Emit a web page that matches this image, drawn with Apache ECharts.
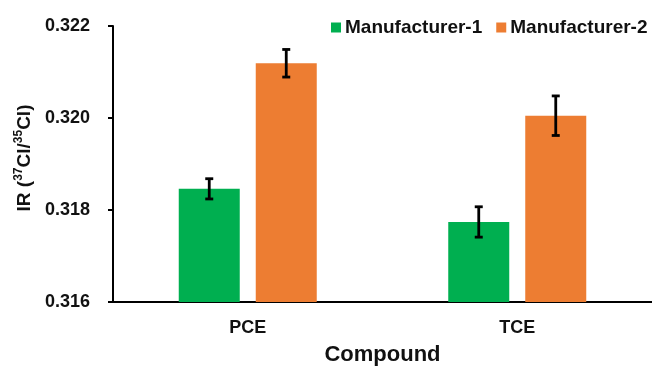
<!DOCTYPE html>
<html>
<head>
<meta charset="utf-8">
<script src="https://cdn.jsdelivr.net/npm/echarts@6/dist/echarts.min.js"></script>
<style>html,body{margin:0;padding:0;background:#fff}#c{width:652px;height:371px}</style>
</head>
<body>
<div id="c"></div>
<script>
var categories = ['PCE', 'TCE'];
var seriesNames = ['Manufacturer-1', 'Manufacturer-2'];
var m1Values = [0.31846, 0.31774];
var m1Errors = [0.00022, 0.00033];
var m2Values = [0.32119, 0.32005];
var m2Errors = [0.00030, 0.00043];
var yTicks = [0.316, 0.318, 0.320, 0.322];

var colors = ['#00AF50', '#ED7D32'];
var BAR_W = 61, GAP = 16;
var FONT = '"Liberation Sans", Arial, sans-serif';

function errData(vals, errs) {
  return vals.map(function (v, i) { return [i, v - errs[i], v + errs[i]]; });
}
function errSeries(vals, errs, side) {
  return {
    type: 'custom',
    z: 10,
    silent: true,
    data: errData(vals, errs),
    renderItem: function (params, api) {
      var off = side * (BAR_W + GAP) / 2;
      var lo = api.coord([api.value(0), api.value(1)]);
      var hi = api.coord([api.value(0), api.value(2)]);
      var x = lo[0] + off, cap = 4;
      var st = { stroke: '#000', lineWidth: 2.8 };
      return {
        type: 'group',
        children: [
          { type: 'line', shape: { x1: x, y1: lo[1], x2: x, y2: hi[1] }, style: st },
          { type: 'line', shape: { x1: x - cap, y1: lo[1], x2: x + cap, y2: lo[1] }, style: st },
          { type: 'line', shape: { x1: x - cap, y1: hi[1], x2: x + cap, y2: hi[1] }, style: st }
        ]
      };
    }
  };
}

var chart = echarts.init(document.getElementById('c'));
chart.setOption({
  animation: false,
  textStyle: { fontFamily: FONT },
  grid: { left: 113, right: -3, top: 26, bottom: 69 },
  legend: {
    data: seriesNames,
    left: 331, top: 13, width: 340, padding: [5, 0, 5, 0],
    icon: 'rect', itemWidth: 10, itemHeight: 10, itemGap: 14,
    textStyle: { fontSize: 19, fontWeight: 'bold', color: '#111', fontFamily: FONT, padding: [0, 0, 0, -1] }
  },
  xAxis: {
    type: 'category',
    data: categories,
    axisLine: { lineStyle: { color: '#000', width: 2 } },
    axisTick: { show: false },
    axisLabel: { fontSize: 18, fontWeight: 'bold', color: '#111', margin: 17, fontFamily: FONT },
    name: 'Compound', nameLocation: 'middle', nameGap: 42,
    nameTextStyle: { fontSize: 22, fontWeight: 'bold', color: '#111', fontFamily: FONT }
  },
  yAxis: {
    type: 'value',
    min: yTicks[0], max: yTicks[yTicks.length - 1], interval: 0.002,
    splitLine: { show: false },
    axisLine: { show: true, lineStyle: { color: '#000', width: 2 } },
    axisTick: { show: true, length: 5, lineStyle: { color: '#000', width: 2 } },
    axisLabel: { fontSize: 18, fontWeight: 'bold', color: '#111', margin: 23, fontFamily: FONT,
      formatter: function (v) { return v.toFixed(3); } },
    name: '{m|IR (}{s|37}{m|Cl/}{s|35}{m|Cl)}',
    nameLocation: 'middle', nameRotate: 90, nameGap: 74,
    nameTextStyle: {
      padding: [0, 0, 0, 12],
      rich: {
        m: { fontSize: 19, fontWeight: 'bold', color: '#111', fontFamily: FONT, lineHeight: 23 },
        s: { fontSize: 12, fontWeight: 'bold', color: '#111', fontFamily: FONT, verticalAlign: 'top', lineHeight: 23, padding: [0, 0, 6, 0] }
      }
    }
  },
  series: [
    { name: seriesNames[0], type: 'bar', data: m1Values, barWidth: BAR_W, barGap: (GAP / BAR_W * 100) + '%', itemStyle: { color: colors[0] } },
    { name: seriesNames[1], type: 'bar', data: m2Values, barWidth: BAR_W, barGap: (GAP / BAR_W * 100) + '%', itemStyle: { color: colors[1] } },
    errSeries(m1Values, m1Errors, -1),
    errSeries(m2Values, m2Errors, 1)
  ]
});
</script>
</body>
</html>
